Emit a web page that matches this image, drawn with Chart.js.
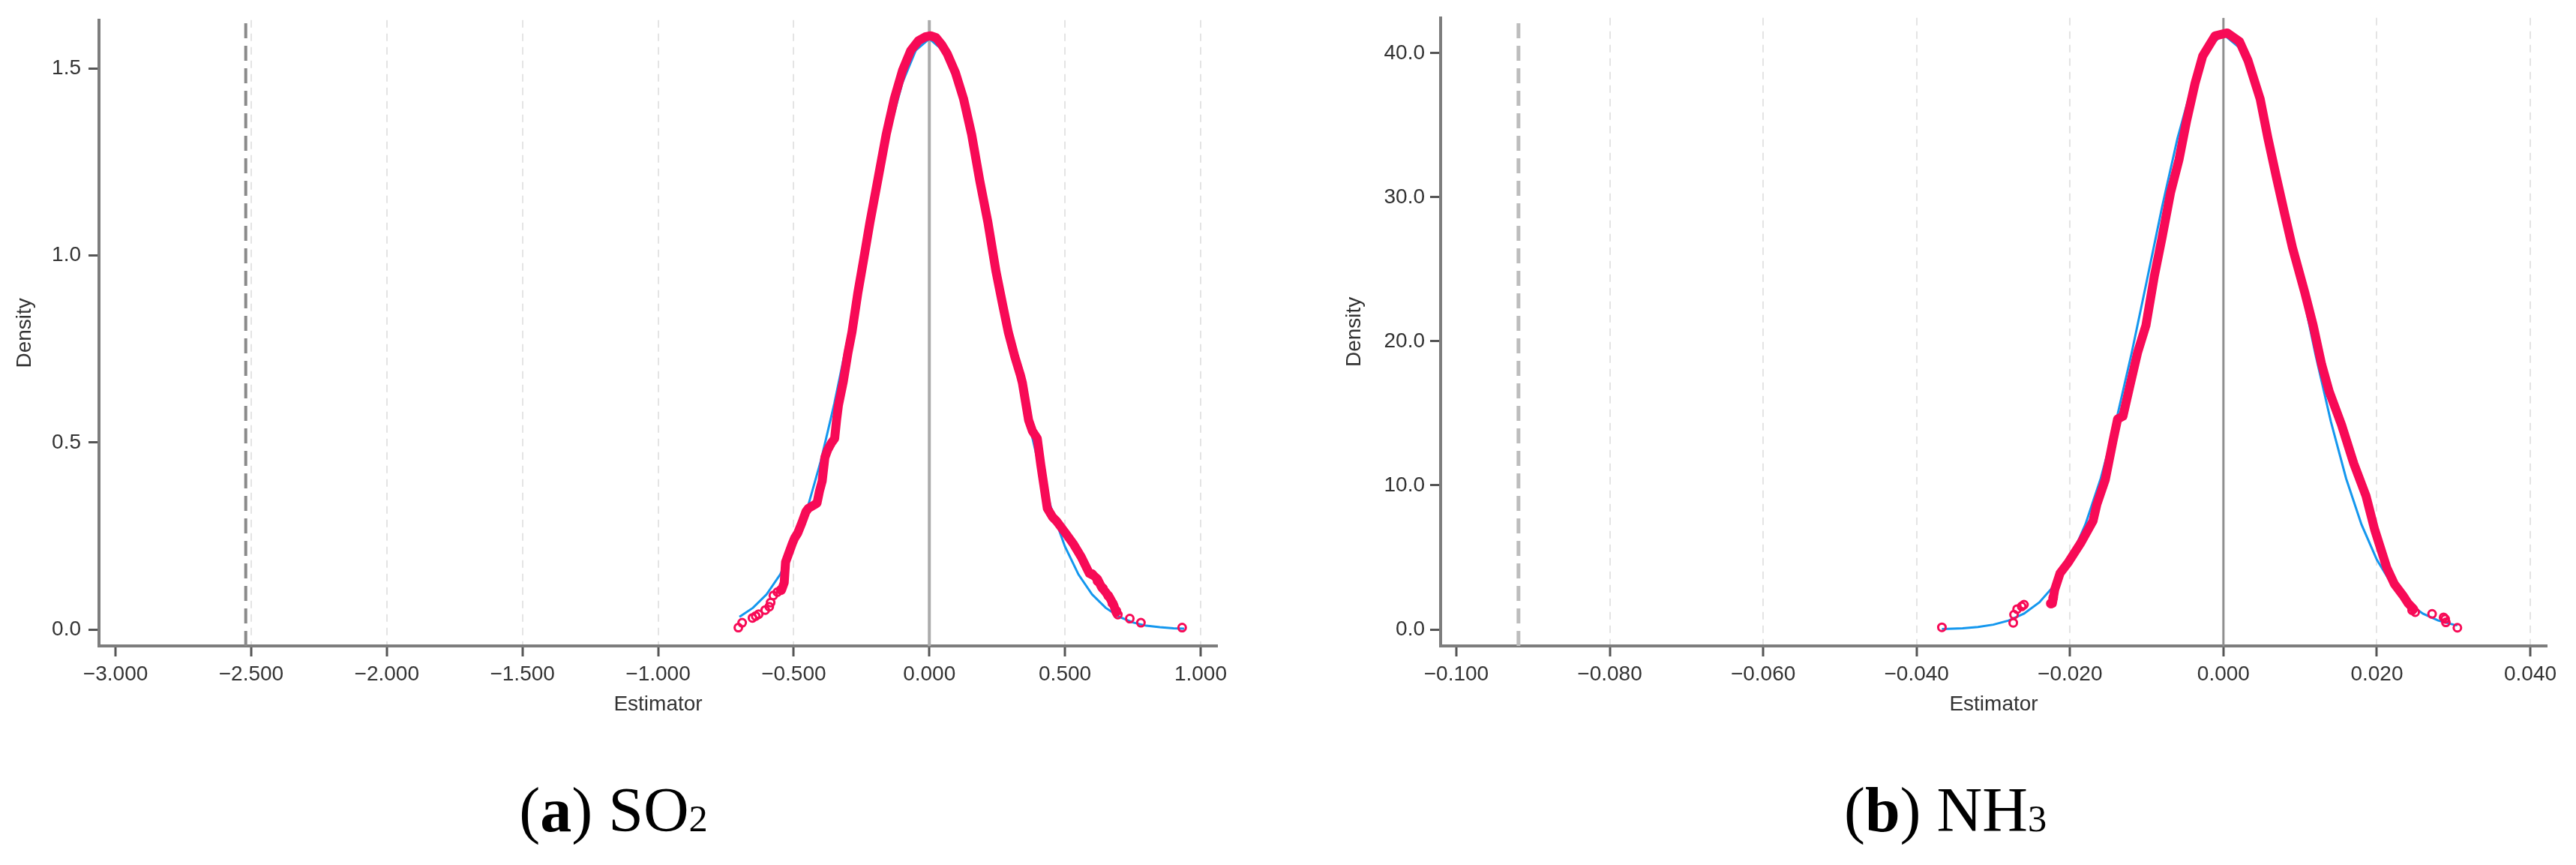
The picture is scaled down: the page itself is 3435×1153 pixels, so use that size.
<!DOCTYPE html>
<html><head><meta charset="utf-8">
<script src="https://cdn.jsdelivr.net/npm/chart.js@4.4.1/dist/chart.umd.min.js"></script>
<style>
html,body{margin:0;padding:0;background:#fff;}
body{width:3435px;height:1153px;position:relative;overflow:hidden;}
.panel{position:absolute;top:0;height:960px;}
.cap{position:absolute;top:1038px;width:800px;text-align:center;font-family:"Liberation Serif","DejaVu Serif",serif;font-size:84px;line-height:84px;color:#000;white-space:nowrap;}
.cap sub{font-size:0.6em;vertical-align:baseline;line-height:0;}
</style></head>
<body>
<div class="panel" style="left:0;width:1700px"><canvas id="c1" width="1700" height="960"></canvas></div>
<div class="panel" style="left:1700px;width:1735px"><canvas id="c2" width="1735" height="960"></canvas></div>
<div class="cap" style="left:418px">(<b>a</b>) SO<sub>2</sub></div>
<div class="cap" style="left:2194px">(<b>b</b>) NH<sub>3</sub></div>
<script>
// ---------- Panel (a) SO2 ----------
const so2XTicks = [-3.0, -2.5, -2.0, -1.5, -1.0, -0.5, 0.0, 0.5, 1.0];
const so2YTicks = [0.0, 0.5, 1.0, 1.5];
const so2Range = {xMin: -3.061, xMax: 1.061, yMin: -0.044, yMax: 1.63};
const so2RefX = -2.52;   // dashed reference line (true estimate)
const so2ZeroX = 0.0;

const so2NormX = [-0.70,-0.65,-0.60,-0.55,-0.50,-0.45,-0.40,-0.35,-0.30,-0.25,-0.20,-0.15,-0.10,-0.05,0.00,0.05,0.10,0.15,0.20,0.25,0.30,0.35,0.40,0.45,0.50,0.55,0.60,0.65,0.70,0.75,0.80,0.85,0.90,0.94];
const so2NormY = [0.034,0.058,0.094,0.147,0.222,0.323,0.451,0.605,0.780,0.968,1.155,1.325,1.461,1.549,1.580,1.549,1.461,1.325,1.155,0.968,0.780,0.605,0.451,0.323,0.222,0.147,0.094,0.058,0.034,0.019,0.010,0.006,0.003,0.002];

const so2KdX = [-0.545,-0.535,-0.530,-0.520,-0.505,-0.497,-0.485,-0.470,-0.455,-0.446,-0.425,-0.414,-0.405,-0.395,-0.385,-0.375,-0.360,-0.349,-0.342,-0.335,-0.317,-0.300,-0.285,-0.264,-0.243,-0.219,-0.189,-0.159,-0.129,-0.099,-0.069,-0.040,-0.015,0.005,0.025,0.045,0.066,0.096,0.126,0.156,0.186,0.216,0.246,0.270,0.291,0.315,0.336,0.343,0.366,0.380,0.398,0.411,0.435,0.455,0.470,0.500,0.530,0.560,0.590,0.605,0.620,0.635,0.650,0.665,0.680,0.689];
const so2KdY = [0.105,0.125,0.180,0.200,0.230,0.244,0.258,0.285,0.315,0.324,0.333,0.338,0.370,0.397,0.460,0.480,0.500,0.511,0.560,0.600,0.664,0.740,0.796,0.898,0.986,1.089,1.206,1.324,1.420,1.495,1.548,1.575,1.585,1.588,1.583,1.565,1.540,1.490,1.420,1.324,1.200,1.089,0.957,0.870,0.796,0.730,0.680,0.660,0.560,0.531,0.511,0.440,0.324,0.300,0.289,0.260,0.230,0.194,0.150,0.145,0.135,0.113,0.100,0.085,0.065,0.045];

const so2TailX = [-0.704,-0.690,-0.652,-0.640,-0.629,-0.605,-0.590,-0.585,-0.575,-0.560,-0.548,0.600,0.620,0.640,0.660,0.675,0.689,0.695,0.739,0.780,0.932];
const so2TailY = [0.005,0.018,0.031,0.036,0.041,0.052,0.061,0.072,0.091,0.100,0.106,0.148,0.130,0.110,0.090,0.070,0.050,0.040,0.029,0.018,0.005];

// ---------- Panel (b) NH3 ----------
const nh3XTicks = [-0.10, -0.08, -0.06, -0.04, -0.02, 0.00, 0.02, 0.04];
const nh3YTicks = [0, 10, 20, 30, 40];
const nh3Range = {xMin: -0.10205, xMax: 0.04215, yMin: -1.144, yMax: 42.45};
const nh3RefX = -0.0919;
const nh3ZeroX = 0.0;

const nh3NormX = [-0.0367,-0.034,-0.032,-0.030,-0.028,-0.026,-0.024,-0.022,-0.020,-0.018,-0.016,-0.014,-0.012,-0.010,-0.008,-0.006,-0.004,-0.002,0.000,0.002,0.004,0.006,0.008,0.010,0.012,0.014,0.016,0.018,0.020,0.022,0.024,0.026,0.028,0.030,0.0305];
const nh3NormY = [0.03,0.084,0.171,0.333,0.619,1.10,1.88,3.09,4.84,7.28,10.47,14.45,19.09,24.17,29.31,34.06,37.91,40.42,41.30,40.42,37.91,34.06,29.31,24.17,19.09,14.45,10.47,7.28,4.84,3.09,1.88,1.10,0.619,0.333,0.28];

const nh3KdX = [-0.0223,-0.0220,-0.0213,-0.0202,-0.0186,-0.0170,-0.0165,-0.0154,-0.0144,-0.0138,-0.0131,-0.0122,-0.0112,-0.0101,-0.0090,-0.0080,-0.0069,-0.0058,-0.0048,-0.0037,-0.0027,-0.0011,0.0005,0.0021,0.0032,0.0048,0.0058,0.0069,0.0080,0.0090,0.0106,0.0117,0.0128,0.0138,0.0154,0.0170,0.0186,0.0197,0.0213,0.0223,0.0234,0.0241,0.0248];
const nh3KdY = [1.80,2.75,3.90,4.67,6.00,7.53,8.68,10.40,13.08,14.60,14.80,16.90,19.20,21.10,24.55,27.20,30.30,32.60,35.30,37.90,39.80,41.20,41.40,40.80,39.50,36.80,34.10,31.40,28.80,26.50,23.40,21.10,18.40,16.50,14.20,11.50,9.25,6.96,4.28,3.14,2.37,1.80,1.41];

const nh3TailX = [-0.0367,-0.0274,-0.0273,-0.0269,-0.0263,-0.0260,-0.0225,-0.0222,0.0246,0.0250,0.0272,0.0287,0.0289,0.0290,0.0305];
const nh3TailY = [0.15,0.46,1.03,1.41,1.60,1.72,1.80,2.20,1.34,1.20,1.08,0.84,0.73,0.49,0.12];

const RED = '#f70a56';
const BLUE = '#1497ee';
const FONT = {family: '"Liberation Sans", Arial, sans-serif', size: 28};
const TXT = '#333333';

function pts(xs, ys){ return xs.map((x,i)=>({x:x, y:ys[i]})); }
function minus(s){ return s.replace('-', '\u2212'); }

function makeChart(id, p){
  const r = p.range;
  return new Chart(document.getElementById(id), {
    type: 'scatter',
    data: {
      datasets: [
        {data: pts(p.kdX, p.kdY), showLine: true, borderColor: RED, borderWidth: 12,
         pointRadius: 0, borderJoinStyle: 'round', borderCapStyle: 'round', order: 0},
        {data: pts(p.tailX, p.tailY), showLine: false, pointRadius: 5, pointBorderWidth: 3,
         pointBorderColor: RED, pointBackgroundColor: 'rgba(255,255,255,0)', order: 1},
        {data: pts(p.normX, p.normY), showLine: true, borderColor: BLUE, borderWidth: 3,
         pointRadius: 0, order: 2},
        {data: [{x: p.zeroX, y: r.yMin}, {x: p.zeroX, y: r.yMax}], showLine: true,
         borderColor: p.zeroColor, borderWidth: p.zeroWidth, pointRadius: 0, order: 3},
        {data: [{x: p.refX, y: r.yMin}, {x: p.refX, y: r.yMax}], showLine: true,
         borderColor: p.refColor, borderWidth: p.refWidth, borderDash: [20, 10], pointRadius: 0, order: 4}
      ]
    },
    options: {
      responsive: false, animation: false, devicePixelRatio: 1,
      layout: {padding: {top: 23, right: p.rightPad, left: 0, bottom: 0}},
      plugins: {legend: {display: false}, tooltip: {enabled: false}},
      scales: {
        x: {
          type: 'linear', min: r.xMin, max: r.xMax,
          afterBuildTicks: s => { s.ticks = p.xTicks.map(v => ({value: v})); },
          afterFit: s => { s.height = 99; },
          border: {display: true, color: '#7d7d7d', width: 4, dash: [10, 8]},
          grid: {display: true, drawOnChartArea: true, drawTicks: true, tickLength: 14,
                 color: ctx => (ctx.index === 0 ? 'rgba(0,0,0,0)' : '#e4e4e4'),
                 lineWidth: 2, tickColor: '#555555', tickWidth: 3, tickBorderDash: []},
          ticks: {font: FONT, color: TXT, padding: 7, maxRotation: 0, autoSkip: false,
                  callback: v => minus(v.toFixed(3))},
          title: {display: true, text: 'Estimator', font: FONT, color: TXT, padding: {top: 0, bottom: 4}}
        },
        y: {
          type: 'linear', min: r.yMin, max: r.yMax,
          afterBuildTicks: s => { s.ticks = p.yTicks.map(v => ({value: v})); },
          afterFit: s => { s.width = p.yWidth; },
          border: {display: true, color: '#7d7d7d', width: 4},
          grid: {display: true, drawOnChartArea: false, drawTicks: true, tickLength: 14,
                 tickColor: '#555555', tickWidth: 3},
          ticks: {font: FONT, color: TXT, padding: p.yTickPad, autoSkip: false,
                  callback: v => v.toFixed(1)},
          title: {display: true, text: 'Density', font: FONT, color: TXT, padding: {top: p.yTitlePad, bottom: 0}}
        }
      }
    }
  });
}

makeChart('c1', {
  range: so2Range, xTicks: so2XTicks, yTicks: so2YTicks,
  kdX: so2KdX, kdY: so2KdY, tailX: so2TailX, tailY: so2TailY,
  normX: so2NormX, normY: so2NormY, zeroX: so2ZeroX, refX: so2RefX,
  zeroColor: '#ababab', zeroWidth: 4, refColor: '#8a8a8a', refWidth: 4,
  rightPad: 77, yWidth: 132, yTickPad: 10, yTitlePad: 16
});
makeChart('c2', {
  range: nh3Range, xTicks: nh3XTicks, yTicks: nh3YTicks,
  kdX: nh3KdX, kdY: nh3KdY, tailX: nh3TailX, tailY: nh3TailY,
  normX: nh3NormX, normY: nh3NormY, zeroX: nh3ZeroX, refX: nh3RefX,
  zeroColor: '#8f8f8f', zeroWidth: 3, refColor: '#bdbdbd', refWidth: 5,
  rightPad: 39, yWidth: 221, yTickPad: 7, yTitlePad: 89
});
</script>
</body></html>
